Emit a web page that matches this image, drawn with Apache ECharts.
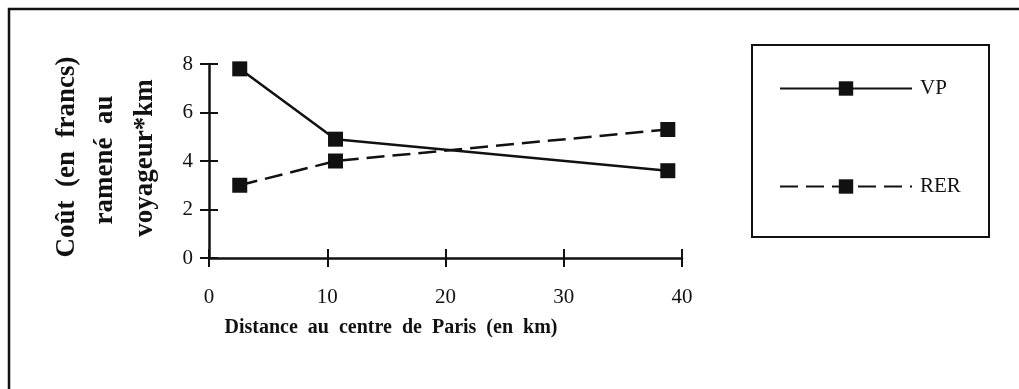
<!DOCTYPE html>
<html>
<head>
<meta charset="utf-8">
<script src="https://cdn.jsdelivr.net/npm/echarts@6/dist/echarts.min.js"></script>
<style>
  html, body { margin: 0; padding: 0; background: #fff; }
  #chart { width: 1019px; height: 389px; }
</style>
</head>
<body>
<div id="chart"></div>
<script>
// Distance to the centre of Paris (km) for each sampled point
const distances = [2.6, 10.7, 38.8];
// Cost per passenger-km (francs)
const vpCost = [7.8, 4.9, 3.6];
const rerCost = [3.0, 4.0, 5.3];
const seriesNames = ['VP', 'RER'];
const xTicks = [0, 10, 20, 30, 40];
const yTicks = [0, 2, 4, 6, 8];

const FONT = '"Liberation Serif", "DejaVu Serif", serif';
const INK = '#111';

const pairs = (xs, ys) => xs.map((x, i) => [x, ys[i]]);

const chart = echarts.init(document.getElementById('chart'), null, { renderer: 'canvas' });

const axisBase = {
  min: xTicks[0],
  max: xTicks[xTicks.length - 1],
  interval: xTicks[1] - xTicks[0],
  splitLine: { show: false }
};
const yBase = {
  min: yTicks[0],
  max: yTicks[yTicks.length - 1],
  interval: yTicks[1] - yTicks[0],
  splitLine: { show: false }
};

chart.setOption({
  animation: false,
  backgroundColor: '#fff',
  grid: { left: 209, right: 337, top: 64, bottom: 131 },
  xAxis: [
    Object.assign({}, axisBase, {
      type: 'value',
      position: 'bottom',
      axisLine: { show: true, lineStyle: { color: INK, width: 2.5 } },
      axisTick: { show: true, length: 9, lineStyle: { color: INK, width: 2 } },
      axisLabel: { show: true, margin: 29, fontFamily: FONT, fontSize: 21, color: INK }
    }),
    // second axis on the same scale: ticks pointing inward, so each tick crosses the line
    Object.assign({}, axisBase, {
      type: 'value',
      position: 'bottom',
      offset: 0,
      axisLine: { show: false },
      axisTick: { show: true, inside: true, length: 9, lineStyle: { color: INK, width: 2 } },
      axisLabel: { show: false }
    })
  ],
  yAxis: [
    Object.assign({}, yBase, {
      type: 'value',
      position: 'left',
      axisLine: { show: true, lineStyle: { color: INK, width: 2.5 } },
      axisTick: { show: true, length: 9, lineStyle: { color: INK, width: 2 } },
      axisLabel: { show: true, margin: 16, fontFamily: FONT, fontSize: 21, color: INK }
    }),
    Object.assign({}, yBase, {
      type: 'value',
      position: 'left',
      offset: 0,
      axisLine: { show: false },
      axisTick: { show: true, inside: true, length: 9, lineStyle: { color: INK, width: 2 } },
      axisLabel: { show: false }
    })
  ],
  legend: {
    orient: 'vertical',
    left: 774,
    top: 73,
    itemWidth: 132,
    itemHeight: 18,
    itemGap: 77,
    selectedMode: false,
    textStyle: { fontFamily: FONT, fontSize: 21, color: INK, padding: [0, 0, 0, 3] },
    data: seriesNames
  },
  series: [
    {
      name: seriesNames[0],
      type: 'line',
      xAxisIndex: 0,
      yAxisIndex: 0,
      data: pairs(distances, vpCost),
      symbol: 'rect',
      symbolSize: 15,
      itemStyle: { color: INK },
      lineStyle: { color: INK, width: 2.5, type: 'solid' }
    },
    {
      name: seriesNames[1],
      type: 'line',
      xAxisIndex: 0,
      yAxisIndex: 0,
      data: pairs(distances, rerCost),
      symbol: 'rect',
      symbolSize: 15,
      itemStyle: { color: INK },
      lineStyle: { color: INK, width: 2.5, type: [18, 8] }
    }
  ],
  graphic: [
    // outer frame (continues past the right and bottom edges)
    {
      type: 'rect',
      shape: { x: 9, y: 9, width: 1100, height: 500 },
      style: { fill: null, stroke: INK, lineWidth: 2.5 },
      silent: true
    },
    // legend box
    {
      type: 'rect',
      shape: { x: 752, y: 45, width: 237, height: 192 },
      style: { fill: null, stroke: INK, lineWidth: 2 },
      silent: true
    },
    // x-axis title
    {
      type: 'text',
      x: 391,
      y: 328,
      style: {
        text: 'Distance  au  centre  de  Paris  (en  km)',
        font: 'bold 20px ' + FONT,
        fill: INK,
        textAlign: 'center',
        textVerticalAlign: 'middle'
      }
    },
    // y-axis title, three rotated lines
    {
      type: 'text', x: 67, y: 157, rotation: Math.PI / 2,
      style: { text: 'Coût  (en  francs)', font: 'bold 27px ' + FONT, fill: INK, textAlign: 'center', textVerticalAlign: 'middle' }
    },
    {
      type: 'text', x: 105, y: 160, rotation: Math.PI / 2,
      style: { text: 'ramené  au', font: 'bold 27px ' + FONT, fill: INK, textAlign: 'center', textVerticalAlign: 'middle' }
    },
    {
      type: 'text', x: 145, y: 158, rotation: Math.PI / 2,
      style: { text: 'voyageur*km', font: 'bold 27px ' + FONT, fill: INK, textAlign: 'center', textVerticalAlign: 'middle' }
    }
  ]
});
</script>
</body>
</html>
